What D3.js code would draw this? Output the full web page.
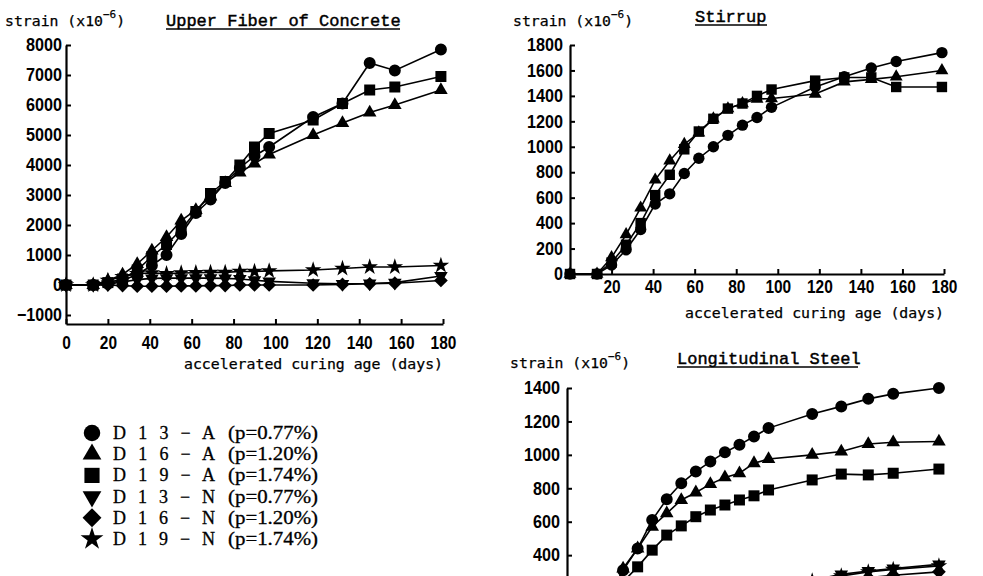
<!DOCTYPE html>
<html><head><meta charset="utf-8">
<script src="https://cdn.jsdelivr.net/npm/d3@7"></script>
<style>
body{margin:0;background:#fff;}
svg{display:block;background:#fff;}
.tick text{font-family:"Liberation Sans Narrow","Liberation Sans",Arial,sans-serif;font-weight:bold;font-size:18px;fill:#000;}
.mono{font-family:"DejaVu Sans Mono",monospace;font-size:14.8px;fill:#000;stroke:#000;stroke-width:0.25px;}
.title{font-family:"Liberation Mono","Courier New",monospace;font-size:17px;fill:#000;stroke:#000;stroke-width:0.45px;}
.legend{font-family:"Liberation Serif","Times New Roman",serif;font-size:18px;fill:#000;stroke:#000;stroke-width:0.3px;}
</style></head><body>
<svg id="c" width="983" height="576"></svg>
<script>
// ---- data ----
const days = [0, 13, 20, 27, 34, 41, 48, 55, 62, 69, 76, 83, 90, 97, 118, 132, 145, 157, 179];
const seriesNames = ["D13-A", "D16-A", "D19-A", "D13-N", "D16-N", "D19-N"];
const legendMain = ["D 1 3 − A", "D 1 6 − A", "D 1 9 − A", "D 1 3 − N", "D 1 6 − N", "D 1 9 − N"];
const legendRatio = ["(p=0.77%)", "(p=1.20%)", "(p=1.74%)", "(p=0.77%)", "(p=1.20%)", "(p=1.74%)"];
const seriesSymbols = ["circle", "triangle", "square", "triangleDown", "diamond", "star"];

// Upper Fiber of Concrete
const upperD13A = [0, 0, 50, 150, 350, 650, 1000, 1700, 2400, 2850, 3400, 3900, 4300, 4600, 5600, 6050, 7400, 7150, 7850];
const upperD16A = [0, 0, 150, 350, 700, 1150, 1600, 2150, 2500, 2950, 3400, 3750, 4050, 4350, 5000, 5400, 5750, 6000, 6500];
const upperD19A = [0, 0, 80, 200, 500, 950, 1350, 1850, 2450, 3050, 3450, 4000, 4600, 5050, 5500, 6050, 6500, 6600, 6950];
const upperD13N = [0, 0, 30, 100, 180, 220, 230, 230, 230, 230, 220, 200, 160, 120, 60, 40, 50, 80, 300];
const upperD16N = [0, 0, 0, -20, -40, -40, -40, -30, -30, -20, -20, 0, 0, 0, 0, 20, 40, 60, 150];
const upperD19N = [0, 0, 150, 280, 380, 400, 380, 400, 410, 420, 420, 450, 450, 470, 500, 550, 600, 600, 650];

// Stirrup
const stirD13A = [0, 0, 70, 190, 350, 550, 630, 790, 910, 1000, 1090, 1170, 1230, 1310, 1470, 1550, 1620, 1670, 1740];
const stirD16A = [0, 0, 130, 310, 520, 740, 890, 1020, 1110, 1220, 1300, 1340, 1375, 1380, 1415, 1510, 1530, 1550, 1600];
const stirD19A = [0, 0, 90, 230, 400, 620, 780, 980, 1120, 1220, 1300, 1340, 1400, 1450, 1520, 1545, 1545, 1470, 1470];

// Longitudinal Steel
const longD13A = [0, 20, 120, 310, 440, 610, 735, 830, 900, 960, 1015, 1060, 1110, 1160, 1245, 1290, 1335, 1365, 1400];
const longD16A = [0, 20, 120, 320, 440, 570, 650, 730, 775, 825, 865, 890, 950, 975, 1000, 1020, 1065, 1075, 1080];
const longD19A = [0, 10, 80, 240, 330, 430, 520, 575, 630, 670, 700, 730, 755, 790, 850, 885, 880, 890, 915];
const longD13N = [0, 5, 20, 50, 80, 110, 130, 150, 170, 185, 200, 210, 220, 230, 250, 285, 305, 320, 345];
const longD16N = [0, 0, 10, 30, 55, 80, 100, 115, 130, 145, 160, 170, 180, 190, 215, 245, 265, 280, 300];
const longD19N = [0, 5, 20, 45, 75, 100, 120, 140, 160, 175, 190, 200, 210, 220, 245, 275, 300, 315, 335];

// tick labels
const xTicks = [0, 20, 40, 60, 80, 100, 120, 140, 160, 180];
const upperYTicks = [-1000, 0, 1000, 2000, 3000, 4000, 5000, 6000, 7000, 8000];
const stirYTicks = [0, 200, 400, 600, 800, 1000, 1200, 1400, 1600, 1800];
const longYTicks = [400, 600, 800, 1000, 1200, 1400];   // lower part of this panel lies below the picture
const xTitle = "accelerated curing age (days)";

// ---- drawing ----
const svg = d3.select("#c");

const symTypes = {
  circle: [d3.symbolCircle, 113, 0],
  triangle: [d3.symbolTriangle, 80, 0],
  square: [d3.symbolSquare, 121, 0],
  triangleDown: [d3.symbolTriangle, 80, 180],
  diamond: [d3.symbolDiamond2, 120, 0],
  star: [d3.symbolStar, 85, 0]
};

function drawMarker(g, type, cx, cy, scale) {
  const [t, s, rot] = symTypes[type];
  g.append("path")
    .attr("d", d3.symbol().type(t).size(s * scale)())
    .attr("transform", `translate(${cx},${cy}) rotate(${rot})`)
    .attr("fill", "#000");
}

function fitTicks(sel, per) {
  sel.selectAll(".tick text").each(function() {
    const t = d3.select(this);
    const s = t.text();
    if (!s) return;
    const n = s.replace("−", "").length;
    const w = n * per + (s.includes("−") ? 9 : 0);
    t.attr("textLength", w).attr("lengthAdjust", "spacingAndGlyphs");
  });
}

function header(x, y, tx, ty, title, ux) {
  const t = svg.append("text").attr("class", "mono").attr("x", x).attr("y", y);
  t.append("tspan").text("strain (x10");
  t.append("tspan").attr("dy", -8).attr("font-size", "11px").text("−6");
  t.append("tspan").attr("dy", 8).text(")");
  svg.append("text").attr("class", "title").attr("x", tx).attr("y", ty).text(title);
  svg.append("line").attr("x1", tx).attr("x2", ux).attr("y1", ty + 3.5).attr("y2", ty + 3.5)
    .attr("stroke", "#000").attr("stroke-width", 1.6);
}

function panel(cfg) {
  const x = d3.scaleLinear().domain([0, 180]).range(cfg.xr);
  const y = d3.scaleLinear().domain(cfg.yd).range(cfg.yr);
  const g = svg.append("g");

  const yAx = g.append("g").attr("transform", `translate(${cfg.xr[0]},0)`)
    .call(d3.axisLeft(y).tickValues(cfg.yTicks).tickSizeInner(-5).tickSizeOuter(0).tickPadding(cfg.yPad)
      .tickFormat(d => d < 0 ? "−" + Math.abs(d) : String(d)));
  const xAx = g.append("g").attr("transform", `translate(0,${y(cfg.yd[0])})`)
    .call(d3.axisBottom(x).tickValues(xTicks).tickSizeInner(-5).tickSizeOuter(0).tickPadding(cfg.xPad)
      .tickFormat(d => (cfg.noXLabels || (cfg.skipZero && d === 0)) ? "" : String(d)));
  [yAx, xAx].forEach(a => {
    a.select(".domain").attr("stroke", "#000").attr("stroke-width", 2.2);
    a.selectAll(".tick line").attr("stroke", "#000").attr("stroke-width", 2);
  });
  fitTicks(yAx, 9);
  fitTicks(xAx, 8.6);

  const line = d3.line().x((d, i) => x(days[i])).y(d => y(d));
  cfg.series.forEach(s => {
    g.append("path").datum(s.values).attr("d", line)
      .attr("fill", "none").attr("stroke", "#000").attr("stroke-width", 1.6);
    s.values.forEach((v, i) => drawMarker(g, s.sym, x(days[i]), y(v), cfg.ms));
  });

  if (cfg.xTitleY) {
    svg.append("text").attr("class", "mono").attr("x", cfg.xr[1]).attr("y", cfg.xTitleY)
      .attr("text-anchor", "end").attr("textLength", 259).attr("lengthAdjust", "spacingAndGlyphs")
      .text(xTitle);
  }
}

// Upper fiber
header(5, 26, 166, 25.5, "Upper Fiber of Concrete", 400);
panel({
  xr: [66, 443], yd: [-1300, 8000], yr: [324, 45], yTicks: upperYTicks, yPad: 4, xPad: 12, ms: 1,
  xTitleY: 369,
  series: [
    {values: upperD19N, sym: "star"},
    {values: upperD16N, sym: "diamond"},
    {values: upperD13N, sym: "triangleDown"},
    {values: upperD16A, sym: "triangle"},
    {values: upperD19A, sym: "square"},
    {values: upperD13A, sym: "circle"}
  ]
});

// Stirrup
header(513, 26, 695, 21.5, "Stirrup", 767);
panel({
  xr: [570, 944], yd: [0, 1800], yr: [274, 45], yTicks: stirYTicks, yPad: 7, xPad: 6, ms: 0.9, skipZero: true,
  xTitleY: 318,
  series: [
    {values: stirD16A, sym: "triangle"},
    {values: stirD19A, sym: "square"},
    {values: stirD13A, sym: "circle"}
  ]
});

// Longitudinal steel
header(510, 368, 677, 363.5, "Longitudinal Steel", 858);
panel({
  xr: [567, 941], yd: [0, 1400], yr: [622, 388], yTicks: longYTicks, yPad: 7, xPad: 8, ms: 1, noXLabels: true,
  series: [
    {values: longD19N, sym: "star"},
    {values: longD16N, sym: "diamond"},
    {values: longD13N, sym: "triangleDown"},
    {values: longD19A, sym: "square"},
    {values: longD16A, sym: "triangle"},
    {values: longD13A, sym: "circle"}
  ]
});

// Legend
const lg = svg.append("g");
seriesNames.forEach((name, i) => {
  const by = 439 + i * 21.2;
  drawMarker(lg, seriesSymbols[i], 92, by - 6, 1.9);
  lg.append("text").attr("class", "legend").attr("x", 113).attr("y", by)
    .attr("textLength", 102).attr("lengthAdjust", "spacing").text(legendMain[i]);
  lg.append("text").attr("class", "legend").attr("x", 228).attr("y", by)
    .attr("textLength", 90).attr("lengthAdjust", "spacingAndGlyphs").text(legendRatio[i]);
});
</script>
</body></html>
